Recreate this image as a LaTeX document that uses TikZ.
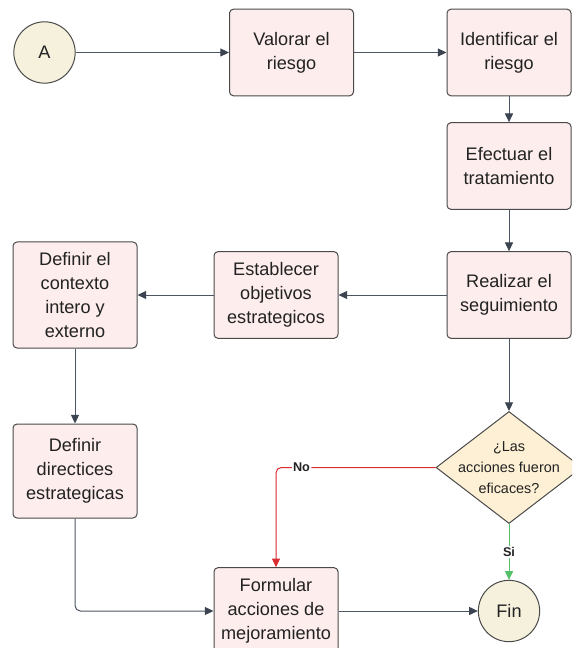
\documentclass[tikz,border=0pt]{standalone}
\usepackage{fontspec}
\setmainfont{Liberation Sans}
\usetikzlibrary{arrows.meta,shapes.geometric}

\definecolor{boxfill}{HTML}{FDEDED}
\definecolor{boxline}{HTML}{4A4A4A}
\definecolor{termfill}{HTML}{F6F1DD}
\definecolor{decfill}{HTML}{FDF0D4}
\definecolor{linecol}{HTML}{4E5562}
\definecolor{tipcol}{HTML}{3C4452}
\definecolor{textcol}{HTML}{222222}
\definecolor{nocol}{HTML}{D92B30}
\definecolor{sicol}{HTML}{55BF6A}

\begin{document}
\begin{tikzpicture}[
  x=0.75pt, y=-0.75pt,
  procbox/.style={draw=boxline, fill=boxfill, rounded corners=3pt, line width=0.75pt,
    minimum width=93pt, minimum height=65pt, inner sep=2pt, align=center,
    text=textcol, font=\fontsize{13.6}{18}\selectfont},
  termnode/.style={circle, draw=boxline, fill=termfill, line width=0.75pt,
    minimum size=46pt, inner sep=0pt, text=textcol, font=\fontsize{13.6}{16}\selectfont},
  decnode/.style={diamond, draw=boxline, fill=decfill, line width=0.75pt,
    minimum width=109.5pt, minimum height=84pt, inner sep=0pt},
  dectext/.style={align=center, text=textcol, font=\fontsize{10.8}{16}\selectfont},
  flow/.style={draw=linecol, line width=0.75pt,
    -{Triangle[length=6.5pt,width=6pt,color=tipcol,fill=tipcol]}},
  branchlabel/.style={fill=white, inner sep=1pt, text=textcol,
    font=\fontsize{9.5}{11}\selectfont\bfseries}
]
\useasboundingbox (0,0) rectangle (572,648);
\fill[white] (0,0) rectangle (572,648);
\begin{scope}
\clip (0,0) rectangle (572,648);

% terminals
\node[termnode] (A)   at (44.5,52.5) {A};
\node[termnode] (fin) at (509,611)   {Fin};

% process steps
\node[procbox] (valorar)   at (291.5,52.5) {Valorar el\\riesgo};
\node[procbox] (ident)     at (509,52.5)   {Identificar el\\riesgo};
\node[procbox] (efectuar)  at (509,166)    {Efectuar el\\tratamiento};
\node[procbox] (realizar)  at (509,295)    {Realizar el\\seguimiento};
\node[procbox] (establ)    at (276,295)    {Establecer\\objetivos\\estrategicos};
\node[procbox, minimum height=79.5pt] (contexto) at (75,295) {Definir el\\contexto\\intero y\\externo};
\node[procbox, minimum height=70.5pt] (direct)   at (75,471) {Definir\\directices\\estrategicas};
\node[procbox] (formular)  at (276,611)    {Formular\\acciones de\\mejoramiento};

% decision
\node[decnode] (dec) at (509,467.5) {};
\node[dectext] (dectxt) at (dec.center) {¿Las\\acciones fueron\\eficaces?};

% connectors
\draw[flow] (A) -- (valorar);
\draw[flow] (valorar) -- (ident);
\draw[flow] (ident) -- (efectuar);
\draw[flow] (efectuar) -- (realizar);
\draw[flow] (realizar) -- (establ);
\draw[flow] (establ) -- (contexto);
\draw[flow] (contexto) -- (direct);
\draw[flow, rounded corners=4pt] (direct.south) |- (formular.west);
\draw[flow] (realizar) -- (dec.north);
\draw[flow] (formular.east) -- (fin.west);

\draw[draw=nocol, line width=0.75pt, rounded corners=4pt,
      -{Triangle[length=6.5pt,width=6pt,color=nocol,fill=nocol]}]
  (dec.west) -| node[branchlabel, pos=0.42] {No} (formular.north);
\draw[draw=sicol, line width=0.75pt,
      -{Triangle[length=6.5pt,width=6pt,color=sicol,fill=sicol]}]
  (dec.south) -- node[branchlabel, pos=0.5] {Si} (fin.north);
\end{scope}
\end{tikzpicture}
\end{document}
